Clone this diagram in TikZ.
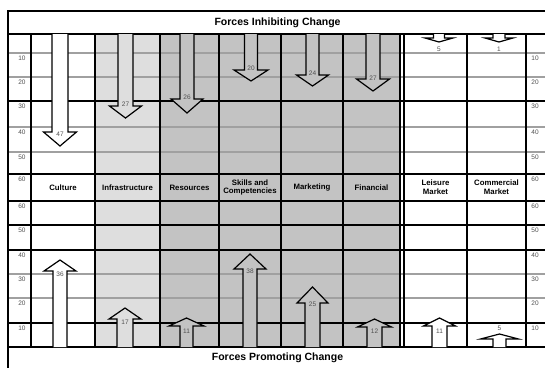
\documentclass[tikz,border=0pt]{standalone}
\usepackage{fontspec}
\setmainfont{Liberation Sans}
\definecolor{ltgray}{HTML}{DEDEDE}
\definecolor{mdgray}{HTML}{C3C3C3}
\definecolor{rulegray}{HTML}{A0A0A0}
\definecolor{numgray}{HTML}{505050}
\tikzset{
  blackrule/.style={line width=1.3pt, black},
  heavyrule/.style={line width=1.7pt, black},
  softrule/.style={line width=1.2pt, rulegray},
  arrowline/.style={line width=1.2pt, draw=black, line join=miter},
  numlbl/.style={font=\fontsize{6.5}{7}\selectfont, text=numgray, inner sep=0pt},
  scalelbl/.style={font=\fontsize{6.5}{7}\selectfont, text=numgray, inner sep=0pt},
  hdr/.style={font=\bfseries\fontsize{7.8}{8.6}\selectfont, align=center, inner sep=0pt},
  titlelbl/.style={font=\bfseries\fontsize{10.5}{12}\selectfont, inner sep=0pt}
}
% down arrow: fill, xc, shaft half width, head half width, head base y, tip y, label y, label, name
\newcommand{\dnarr}[9]{%
  \filldraw[arrowline, fill=#1] (#2-#3,34) -- (#2-#3,#5) -- (#2-#4,#5) -- (#2,#6) -- (#2+#4,#5) -- (#2+#3,#5) -- (#2+#3,34);
  \node[numlbl] (#9) at (#2,#7) {#8};
}
% up arrow
\newcommand{\uparr}[9]{%
  \filldraw[arrowline, fill=#1] (#2-#3,347) -- (#2-#3,#5) -- (#2-#4,#5) -- (#2,#6) -- (#2+#4,#5) -- (#2+#3,#5) -- (#2+#3,347);
  \node[numlbl] (#9) at (#2,#7) {#8};
}
\begin{document}
\begin{tikzpicture}[x=1pt, y=-1pt]
\useasboundingbox (0,0) rectangle (545,367);
\clip (0,0) rectangle (545,367);
\fill[white] (0,0) rectangle (545,367);
% column backgrounds
\fill[ltgray] (95,34) rectangle (160,347);
\fill[mdgray] (160,34) rectangle (400,347);
% horizontal rules
\foreach \y in {53,77,127,152,274,298} \draw[softrule] (8,\y) -- (550,\y);
\foreach \y in {101,201,250,323} \draw[blackrule] (8,\y) -- (550,\y);
\foreach \y in {34,174,225,347} \draw[heavyrule] (8,\y) -- (550,\y);
% vertical rules
\foreach \x in {31,95,160,219,281,343,400,404,467,526} \draw[blackrule] (\x,34) -- (\x,347);
% outer frame
\draw[heavyrule] (8,375) -- (8,11) -- (552,11) -- (552,375);
% titles
\node[titlelbl] (top) at (277.5,23) {Forces Inhibiting Change};
\node[titlelbl] (bottom) at (277.5,357.5) {Forces Promoting Change};
% scale numbers
\foreach \y/\t [count=\i] in {53/10,77/20,101/30,127/40,152/50,174/60,201/60,225/50,250/40,274/30,298/20,323/10} {
  \node[scalelbl] (l\i) at (22,\y+5.5) {\t};
  \node[scalelbl] (r\i) at (535,\y+5.5) {\t};
}
% column headers
\node[hdr] (culture) at (63,187.5) {Culture};
\node[hdr] (infra) at (127.5,187.5) {Infrastructure};
\node[hdr] (resources) at (189.5,187.5) {Resources};
\node[hdr] (skills) at (250,187.5) {Skills and\\Competencies};
\node[hdr] (marketing) at (312,187.5) {Marketing};
\node[hdr] (financial) at (371.5,187.5) {Financial};
\node[hdr] (leisure) at (435.5,187.5) {Leisure\\Market};
\node[hdr] (commercial) at (496.5,187.5) {Commercial\\Market};
% inhibiting forces
\dnarr{white}{60}{8}{16.5}{132}{146}{134}{47}{d1}
\dnarr{ltgray}{125.5}{7.5}{16}{106}{118}{104}{27}{d2}
\dnarr{mdgray}{187}{7}{16}{99}{113}{97}{26}{d3}
\dnarr{mdgray}{251}{6.5}{17}{70}{81}{68}{20}{d4}
\dnarr{mdgray}{312.5}{6.5}{16}{75}{86}{73}{24}{d5}
\dnarr{mdgray}{373}{7}{16.5}{79}{91}{78}{27}{d6}
\dnarr{white}{439}{5.5}{14}{38}{42}{49}{5}{d7}
\dnarr{white}{499}{6}{14}{38}{42}{49}{1}{d8}
% promoting forces
\uparr{white}{60}{7}{16}{271}{260}{274}{36}{u1}
\uparr{ltgray}{125}{8}{16}{319}{308}{322}{17}{u2}
\uparr{mdgray}{186.5}{6.5}{17.5}{326}{318}{331}{11}{u3}
\uparr{mdgray}{250}{7}{16}{269}{254}{271}{38}{u4}
\uparr{mdgray}{312.5}{7.5}{15.5}{303}{287}{304}{25}{u5}
\uparr{mdgray}{374.5}{7.5}{17}{327}{319}{331}{12}{u6}
\uparr{white}{439.5}{7.5}{16}{326}{318}{331}{11}{u7}
\uparr{white}{499.5}{6.5}{19}{339}{334}{328}{5}{u8}
\end{tikzpicture}
\end{document}
